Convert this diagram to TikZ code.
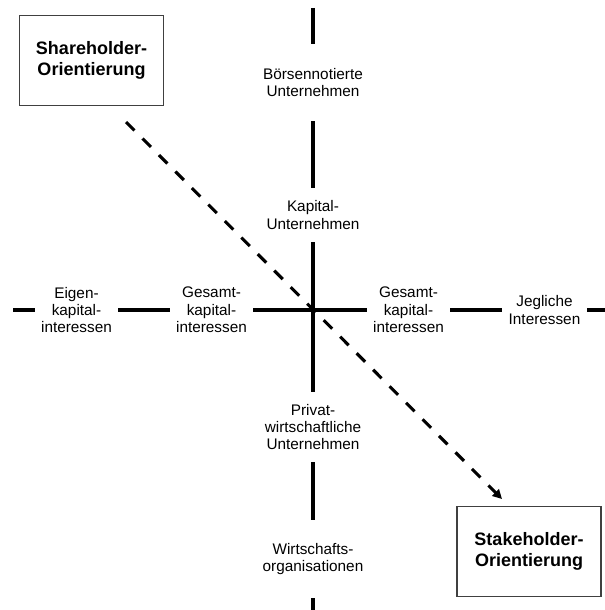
\documentclass[tikz,border=0pt]{standalone}
\usepackage{fontspec}
\setmainfont{Liberation Sans}
\usetikzlibrary{arrows.meta}
\begin{document}
\begin{tikzpicture}[x=0.75pt,y=-0.75pt,
  axis/.style={line width=2.3pt},
  lbl/.style={inner sep=0pt,outer sep=0pt,align=center,font=\fontsize{11.5}{13}\selectfont},
  orient/.style={draw=black!75,line width=0.8pt,minimum width=108pt,minimum height=68pt,align=center,font=\fontsize{13.5}{15.5}\selectfont\bfseries},
  shiftarrow/.style={line width=2.3pt,dash pattern=on 9pt off 8.5pt,-{Triangle[length=7pt,width=7pt]}}]
\useasboundingbox (0,0) rectangle (605,610);
\node[orient] (share) at (91.5,60.5) {Shareholder-\\Orientierung};
\node[orient] (stake) at (529,551.5) {Stakeholder-\\Orientierung};
% vertical axis
\coordinate (top) at (313,8);
\coordinate (bottom) at (313,610);
\node[lbl,minimum height=57.75pt] (boerse) at (313,82.5) {Börsennotierte\\Unternehmen};
\node[lbl,minimum height=40.5pt] (kapital) at (313,215) {Kapital-\\Unternehmen};
\node[lbl,minimum height=52.5pt] (privat) at (313,427) {Privat-\\wirtschaftliche\\Unternehmen};
\node[lbl,minimum height=58.5pt] (wirtschaft) at (313,559) {Wirtschafts-\\organisationen};
\draw[axis] (top) -- (boerse);
\draw[axis] (boerse) -- (kapital);
\draw[axis] (kapital) -- (privat);
\draw[axis] (privat) -- (wirtschaft);
\draw[axis] (wirtschaft) -- (bottom);
% horizontal axis
\coordinate (left) at (13,310);
\coordinate (right) at (605,310);
\node[lbl,minimum width=62.25pt] (eigen) at (76.5,310) {Eigen-\\kapital-\\interessen};
\node[lbl,minimum width=62.25pt] (gesamtL) at (211.5,310) {Gesamt-\\kapital-\\interessen};
\node[lbl,minimum width=62.25pt] (gesamtR) at (408.5,310) {Gesamt-\\kapital-\\interessen};
\node[lbl,minimum width=63.75pt] (jeglich) at (544.5,310) {Jegliche\\Interessen};
\draw[axis] (left) -- (eigen);
\draw[axis] (eigen) -- (gesamtL);
\draw[axis] (gesamtL) -- (gesamtR);
\draw[axis] (gesamtR) -- (jeglich);
\draw[axis] (jeglich) -- (right);
% orientation
\coordinate (dstart) at (126,122);
\coordinate (dend) at (502,499);
\draw[shiftarrow] (dstart) -- (dend);
\end{tikzpicture}
\end{document}
